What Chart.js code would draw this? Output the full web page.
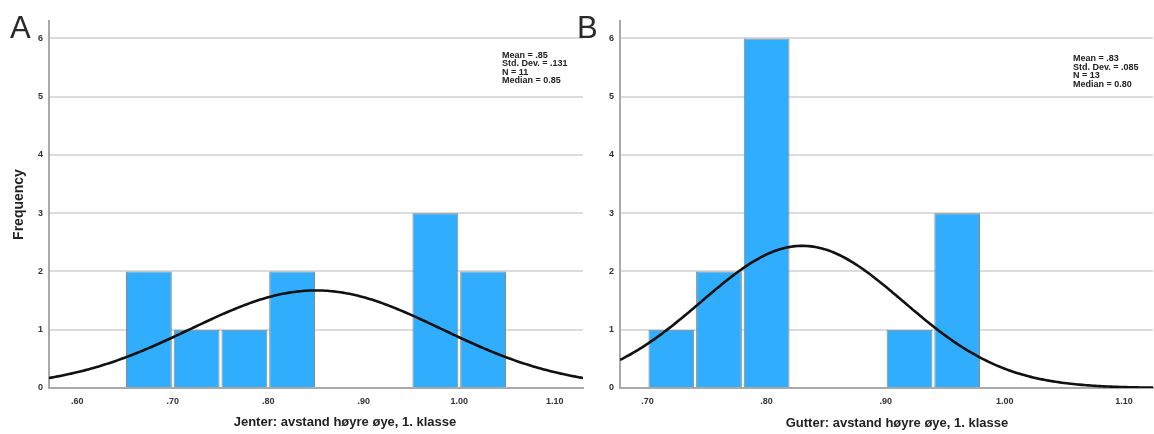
<!DOCTYPE html>
<html>
<head>
<meta charset="utf-8">
<script src="https://cdn.jsdelivr.net/npm/chart.js@4/dist/chart.umd.min.js"></script>
<style>
  html, body { margin: 0; padding: 0; background: #fff; }
  body { width: 1154px; height: 434px; position: relative; overflow: hidden; }
  .panel { position: absolute; top: 0; height: 434px; }
  #panelA { left: 0; width: 590px; }
  #panelB { left: 570px; width: 584px; }
</style>
</head>
<body>
<div class="panel" id="panelA"><canvas id="chartA" width="590" height="434"></canvas></div>
<div class="panel" id="panelB"><canvas id="chartB" width="584" height="434"></canvas></div>
<script>
// Panel A: girls (Jenter), bins of width .05
const binCentersA = [0.675, 0.725, 0.775, 0.825, 0.975, 1.025];
const countsA = [2, 1, 1, 2, 3, 2];
const binWidthA = 0.05;
const statsA = { mean: 0.85, sd: 0.131, n: 11 };
const statsTextA = ['Mean = .85', 'Std. Dev. = .131', 'N = 11', 'Median = 0.85'];
const xTicksA = [0.6, 0.7, 0.8, 0.9, 1.0, 1.1];
const xTickLabelsA = ['.60', '.70', '.80', '.90', '1.00', '1.10'];
const xRangeA = [0.5704, 1.1296];
const xTitleA = 'Jenter: avstand høyre øye, 1. klasse';

// Panel B: boys (Gutter), bins of width .04
const binCentersB = [0.72, 0.76, 0.80, 0.92, 0.96];
const countsB = [1, 2, 6, 1, 3];
const binWidthB = 0.04;
const statsB = { mean: 0.83, sd: 0.085, n: 13 };
const statsTextB = ['Mean = .83', 'Std. Dev. = .085', 'N = 13', 'Median = 0.80'];
const xTicksB = [0.7, 0.8, 0.9, 1.0, 1.1];
const xTickLabelsB = ['.70', '.80', '.90', '1.00', '1.10'];
const xRangeB = [0.6769, 1.1244];
const xTitleB = 'Gutter: avstand høyre øye, 1. klasse';

const yTicks = [0, 1, 2, 3, 4, 5, 6];
const yMax = 6.3;

const FONT = '"Liberation Sans", Arial, Helvetica, sans-serif';
Chart.defaults.font.family = FONT;

// Normal curve scaled to the histogram: N * binWidth * density(mean, sd)
function normalCurve(stats, binWidth, range, steps) {
  const pts = [];
  const k = stats.n * binWidth / (stats.sd * Math.sqrt(2 * Math.PI));
  for (let i = 0; i <= steps; i++) {
    const x = range[0] + (range[1] - range[0]) * i / steps;
    const z = (x - stats.mean) / stats.sd;
    pts.push({ x: x, y: k * Math.exp(-0.5 * z * z) });
  }
  return pts;
}

// Panel letter, statistics box and x-axis title
const panelText = {
  id: 'panelText',
  afterDraw(chart, args, o) {
    const ctx = chart.ctx;
    const ca = chart.chartArea;
    ctx.save();
    ctx.fillStyle = '#2a2a2a';
    ctx.textAlign = 'left';
    ctx.textBaseline = 'alphabetic';
    ctx.font = '31px ' + FONT;
    ctx.fillText(o.letter, o.letterX, 38);

    ctx.fillStyle = '#222';
    ctx.font = 'bold 9px ' + FONT;
    o.stats.forEach((s, i) => ctx.fillText(s, ca.right - o.statsDX, o.statsY + i * 8.6));

    ctx.font = 'bold 13px ' + FONT;
    ctx.textAlign = 'center';
    ctx.textBaseline = 'middle';
    ctx.fillText(o.xTitle, o.xTitleX, o.xTitleY);
    ctx.restore();
  }
};

function makeChart(id, cfg) {
  return new Chart(document.getElementById(id), {
    type: 'bar',
    data: {
      datasets: [
        {
          type: 'line',
          data: normalCurve(cfg.stats, cfg.binWidth, cfg.xRange, 240),
          borderColor: '#111',
          borderWidth: 2.6,
          pointRadius: 0,
          tension: 0,
          order: 0
        },
        {
          type: 'bar',
          data: cfg.centers.map((c, i) => ({ x: c, y: cfg.counts[i] })),
          backgroundColor: '#30adfd',
          borderColor: '#858585',
          borderWidth: 1,
          barPercentage: 0.96,
          categoryPercentage: 1,
          order: 1
        }
      ]
    },
    options: {
      responsive: false,
      animation: false,
      devicePixelRatio: 1,
      layout: { padding: { left: 0, right: cfg.padRight, top: 21, bottom: 0 } },
      plugins: {
        legend: { display: false },
        tooltip: { enabled: false },
        panelText: {
          letter: cfg.letter, letterX: cfg.letterX,
          stats: cfg.statsText, statsDX: cfg.statsDX, statsY: cfg.statsY,
          xTitle: cfg.xTitle, xTitleX: cfg.xTitleX, xTitleY: cfg.xTitleY
        }
      },
      scales: {
        x: {
          type: 'linear',
          offset: false,
          min: cfg.xRange[0],
          max: cfg.xRange[1],
          afterBuildTicks: s => { s.ticks = cfg.xTicks.map(v => ({ value: v })); },
          afterFit: s => { s.height = 46; },
          grid: { display: false, drawTicks: false, offset: false },
          border: { display: true, color: '#a9a9a9', width: 2 },
          ticks: {
            autoSkip: false, maxRotation: 0, padding: 8,
            color: '#333', font: { size: 9, weight: 'bold' },
            callback: (v, i) => cfg.xTickLabels[i]
          }
        },
        y: {
          type: 'linear',
          min: 0,
          max: yMax,
          afterBuildTicks: s => { s.ticks = yTicks.map(v => ({ value: v })); },
          afterFit: s => { s.width = cfg.yWidth; },
          grid: { color: '#dcdcdc', lineWidth: 2, drawTicks: false },
          border: { display: true, color: '#a9a9a9', width: 2 },
          ticks: {
            padding: 6, color: '#333', font: { size: 9, weight: 'bold' },
            callback: v => String(v)
          },
          title: {
            display: cfg.yTitle !== '',
            text: cfg.yTitle,
            color: '#222',
            font: { size: 14, weight: 'bold' },
            padding: { top: 11, bottom: 0 }
          }
        }
      }
    },
    plugins: [panelText]
  });
}

makeChart('chartA', {
  centers: binCentersA, counts: countsA, binWidth: binWidthA, stats: statsA,
  statsText: statsTextA, xTicks: xTicksA, xTickLabels: xTickLabelsA, xRange: xRangeA,
  xTitle: xTitleA, yTitle: 'Frequency', yWidth: 49, padRight: 7,
  letter: 'A', letterX: 10, statsDX: 81, statsY: 57.5, xTitleX: 345, xTitleY: 422
});

makeChart('chartB', {
  centers: binCentersB, counts: countsB, binWidth: binWidthB, stats: statsB,
  statsText: statsTextB, xTicks: xTicksB, xTickLabels: xTickLabelsB, xRange: xRangeB,
  xTitle: xTitleB, yTitle: '', yWidth: 50, padRight: 1,
  letter: 'B', letterX: 7, statsDX: 80, statsY: 61, xTitleX: 327, xTitleY: 423
});
</script>
</body>
</html>
